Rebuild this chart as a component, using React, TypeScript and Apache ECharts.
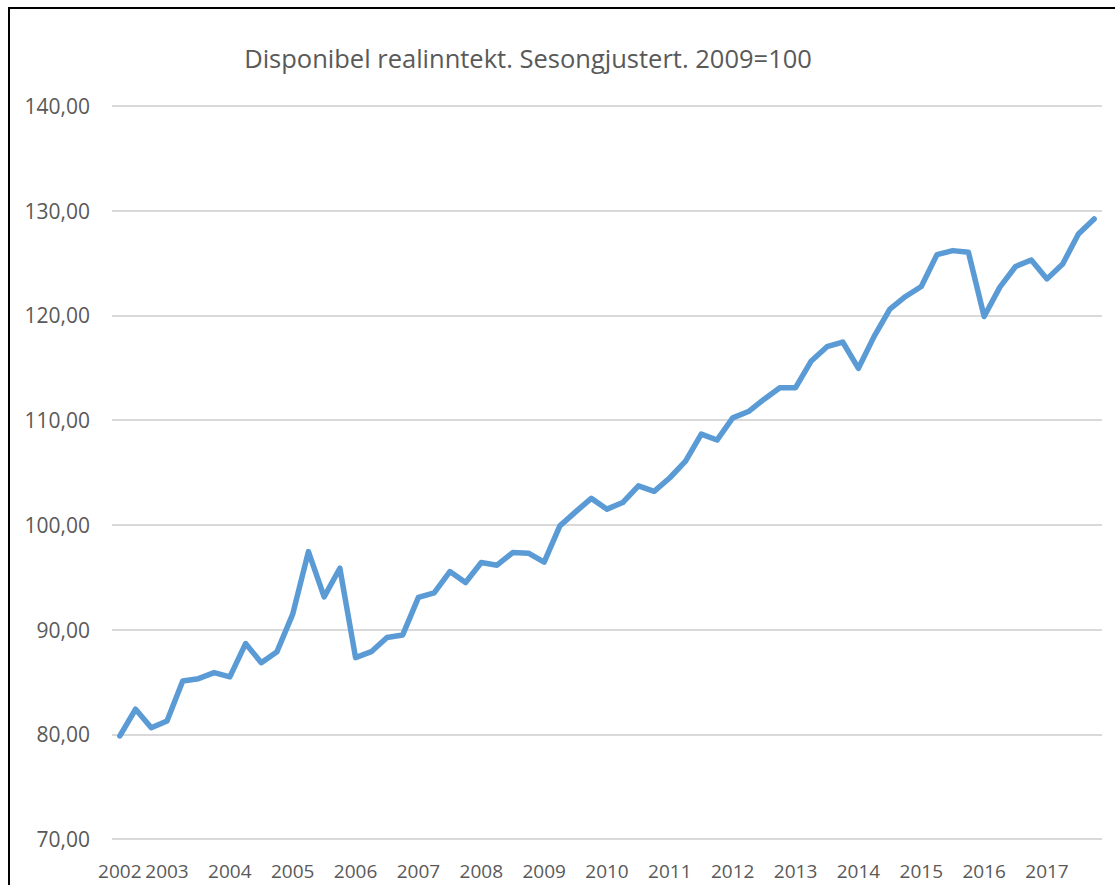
import React, { useEffect, useRef } from "react";
import * as echarts from "echarts";

const TITLE = "Disponibel realinntekt. Sesongjustert. 2009=100";

// Quarters 2002K2 .. 2017K4
const quarters: string[] = (() => {
  const out: string[] = [];
  for (let y = 2002; y <= 2017; y++) {
    for (let q = 1; q <= 4; q++) {
      if (y === 2002 && q === 1) continue;
      out.push(`${y}K${q}`);
    }
  }
  return out;
})();

const realIncome: number[] = [
  79.84, 82.39, 80.63, 81.27, 85.09, 85.31, 85.89, 85.48, 88.66, 86.84,
  87.89, 91.47, 97.45, 93.12, 95.86, 87.32, 87.89, 89.25, 89.49, 93.08,
  93.5, 95.54, 94.49, 96.4, 96.15, 97.35, 97.3, 96.45, 99.9, 101.24,
  102.53, 101.5, 102.13, 103.73, 103.2, 104.5, 106.08, 108.67, 108.1, 110.22,
  110.82, 112.0, 113.1, 113.1, 115.65, 117.01, 117.46, 114.95, 118.0, 120.6,
  121.81, 122.76, 125.81, 126.19, 126.03, 119.9, 122.7, 124.67, 125.3, 123.49,
  124.92, 127.78, 129.21,
];

const Y_MIN = 70;
const Y_MAX = 140;
const Y_STEP = 10;

const FONT = "'Open Sans', sans-serif";
const TEXT_COLOR = "#595959";

export default function App() {
  const ref = useRef<HTMLDivElement>(null);

  useEffect(() => {
    if (!ref.current) return;
    const chart = echarts.init(ref.current, null, { renderer: "svg" });
    chart.setOption({
      animation: false,
      backgroundColor: "#ffffff",
      grid: { left: 112, right: 13, top: 106, bottom: 46, containLabel: false },
      graphic: [
        {
          type: "rect",
          shape: { x: 9, y: 8, width: 1300, height: 1000 },
          style: { fill: "none", stroke: "#000000", lineWidth: 2 },
          silent: true,
        },
        {
          type: "text",
          x: 528,
          y: 58,
          style: {
            text: TITLE,
            fill: TEXT_COLOR,
            font: `25.5px ${FONT}`,
            textAlign: "center",
            textVerticalAlign: "middle",
          },
        },
      ],
      xAxis: {
        type: "category",
        data: quarters,
        boundaryGap: true,
        axisLine: { show: false },
        axisTick: { show: false },
        axisLabel: {
          interval: (index: number, value: string) =>
            index === 0 || value.endsWith("K1"),
          formatter: (value: string) => value.slice(0, 4),
          color: TEXT_COLOR,
          fontFamily: FONT,
          fontSize: 19,
          margin: 22,
        },
        splitLine: { show: false },
      },
      yAxis: {
        type: "value",
        min: Y_MIN,
        max: Y_MAX,
        interval: Y_STEP,
        axisLine: { show: false },
        axisTick: { show: false },
        axisLabel: {
          formatter: (v: number) => v.toFixed(2).replace(".", ","),
          color: TEXT_COLOR,
          fontFamily: FONT,
          fontSize: 21,
          margin: 22,
        },
        splitLine: { lineStyle: { color: "#d9d9d9", width: 2 } },
      },
      series: [
        {
          type: "line",
          data: realIncome,
          showSymbol: false,
          symbol: "none",
          lineStyle: { color: "#5b9bd5", width: 5.5, cap: "round", join: "round" },
        },
      ],
    });
    return () => chart.dispose();
  }, []);

  return (
    <div
      ref={ref}
      style={{ position: "absolute", left: 0, top: 0, width: 1115, height: 885 }}
    />
  );
}
